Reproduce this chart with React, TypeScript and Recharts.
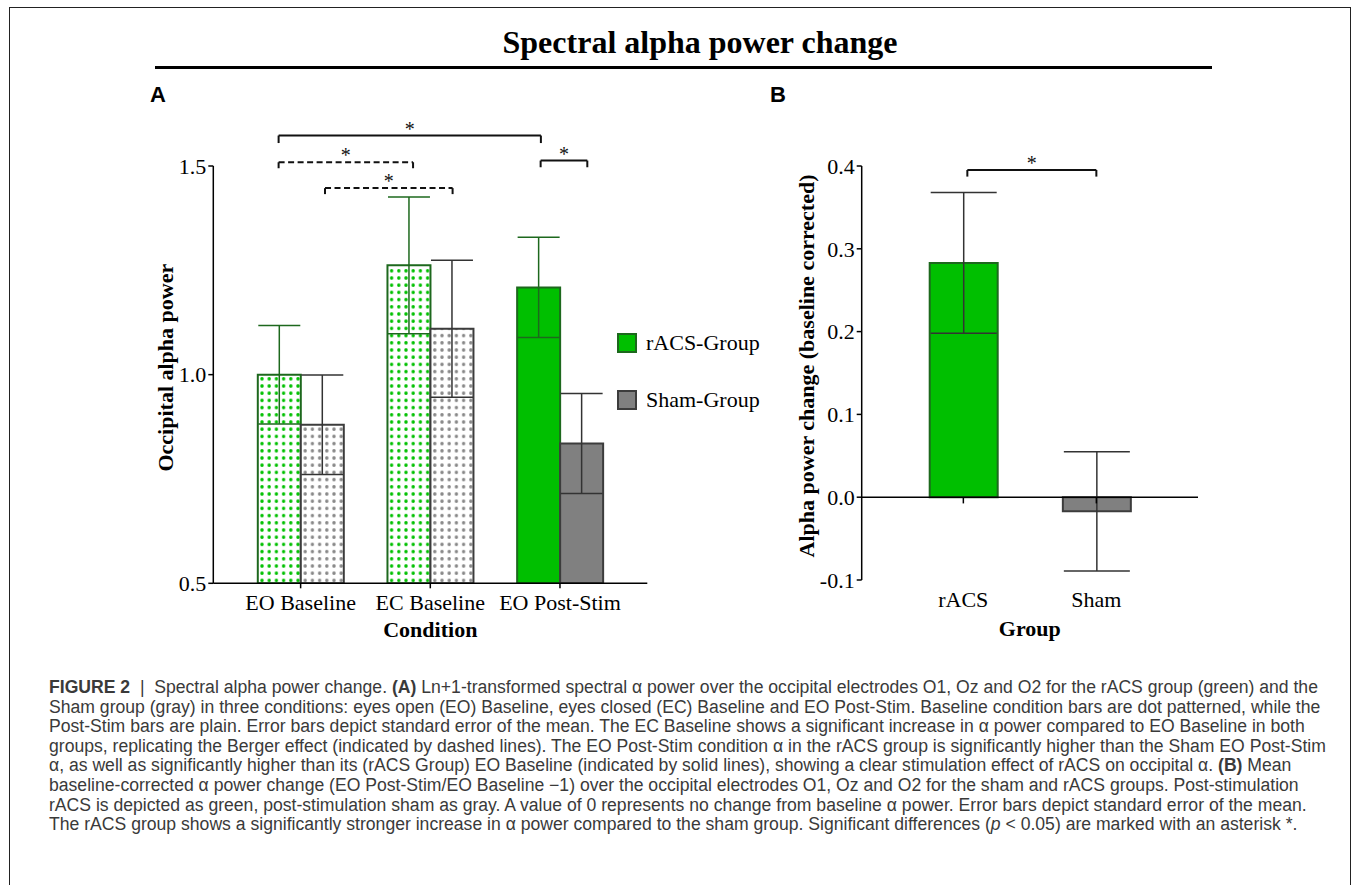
import React from 'react';
import { BarChart, Bar, XAxis, YAxis, ErrorBar, Cell, ReferenceLine, Legend } from 'recharts';

// Panel A: occipital alpha power per condition
const conditions = ['EO Baseline', 'EC Baseline', 'EO Post-Stim'];
const racsPower = [1.0, 1.262, 1.209];
const racsSem = [0.118, 0.164, 0.12];
const shamPower = [0.88, 1.11, 0.835];
const shamSem = [0.119, 0.164, 0.12];
const dotted = [true, true, false];
const powerTicks = [0.5, 1.0, 1.5];
const legendOrder = ['rACS-Group', 'Sham-Group'];

// Panel B: baseline corrected change
const groups = ['rACS', 'Sham'];
const powerChange = [0.283, -0.017];
const changeSem = [0.085, 0.072];
const changeTicks = [-0.1, 0, 0.1, 0.2, 0.3, 0.4];

// significance brackets, x in condition units (0 = centre of the first condition)
const bracketsA = [
  { from: -0.17, to: 1.853, y: 1.573, drop: 0.018, dashed: false },
  { from: -0.17, to: 0.867, y: 1.509, drop: 0.016, dashed: true },
  { from: 0.188, to: 1.172, y: 1.447, drop: 0.016, dashed: true },
  { from: 1.851, to: 2.211, y: 1.513, drop: 0.016, dashed: false },
];
const bracketsB = [{ from: 0.03, to: 1.0, y: 0.3952, drop: 0.008, dashed: false }];

const SERIF = '"Liberation Serif", "Times New Roman", serif';
const SANS = '"Liberation Sans", Arial, sans-serif';
const GREEN = '#00bf00';
const GREEN_EDGE = '#1d681d';
const GRAY = '#808080';
const GRAY_EDGE = '#3c3c3c';

const edgeOf: Record<string, string> = { 'rACS-Group': GREEN_EDGE, 'Sham-Group': GRAY_EDGE };

const dataA = conditions.map((c, i) => ({
  condition: c,
  racs: racsPower[i],
  racsErr: racsSem[i],
  sham: shamPower[i],
  shamErr: shamSem[i],
}));

const dataB = groups.map((g, i) => ({ group: g, change: powerChange[i], err: changeSem[i] }));

const tickStyle = { fontFamily: SERIF, fontSize: 22, fill: '#000' };

function bracketLines(b: any, key: string, axisId: string) {
  const common = {
    xAxisId: axisId,
    ifOverflow: 'visible' as const,
    stroke: '#111',
    strokeWidth: 2,
    strokeDasharray: b.dashed ? '6 3.5' : undefined,
  };
  return [
    <ReferenceLine
      key={key + 'h'}
      {...common}
      segment={[{ x: b.from, y: b.y }, { x: b.to, y: b.y }]}
      label={{ value: '*', position: 'top', offset: 0, fill: '#111', fontSize: 20, fontFamily: SERIF }}
    />,
    <ReferenceLine key={key + 'l'} {...common} segment={[{ x: b.from, y: b.y }, { x: b.from, y: b.y - b.drop }]} />,
    <ReferenceLine key={key + 'r'} {...common} segment={[{ x: b.to, y: b.y }, { x: b.to, y: b.y - b.drop }]} />,
  ];
}

function SideLabel(props: any) {
  const { viewBox, text, dx, lift } = props;
  const cx = viewBox.x + dx;
  const cy = viewBox.y + viewBox.height / 2 - lift;
  return (
    <text
      x={cx}
      y={cy}
      transform={`rotate(-90, ${cx}, ${cy})`}
      textAnchor="middle"
      dominantBaseline="central"
      fontFamily={SERIF}
      fontWeight="bold"
      fontSize={22}
      fill="#000"
    >
      {text}
    </text>
  );
}

function GroupLegend(props: any) {
  const items = [...(props.payload || [])].sort(
    (a: any, b: any) => legendOrder.indexOf(a.value) - legendOrder.indexOf(b.value)
  );
  return (
    <div>
      {items.map((entry: any) => (
        <div key={entry.value} style={{ display: 'flex', alignItems: 'center', height: 57 }}>
          <span
            style={{
              display: 'inline-block',
              width: 16,
              height: 16,
              background: entry.color,
              border: `2px solid ${edgeOf[entry.value]}`,
            }}
          />
          <span style={{ marginLeft: 9, fontFamily: SERIF, fontSize: 22, color: '#000' }}>{entry.value}</span>
        </div>
      ))}
    </div>
  );
}

function PanelA() {
  return (
    <BarChart
      width={680}
      height={580}
      data={dataA}
      barGap={0}
      margin={{ top: 86, right: 132.7, bottom: 21.7, left: 43.3 }}
    >
      <defs>
        <pattern id="dotsGreen" width={7.2} height={7.2} patternUnits="userSpaceOnUse">
          <rect width={7.2} height={7.2} fill="#fff" />
          <circle cx={3.6} cy={3.6} r={1.7} fill="#00c000" />
        </pattern>
        <pattern id="dotsGray" width={7.2} height={7.2} patternUnits="userSpaceOnUse">
          <rect width={7.2} height={7.2} fill="#fff" />
          <circle cx={3.6} cy={3.6} r={1.7} fill="#888" />
        </pattern>
      </defs>
      <XAxis
        dataKey="condition"
        height={55}
        padding={{ left: 22.5, right: 22.5 }}
        tick={tickStyle}
        tickSize={5}
        tickMargin={6}
        axisLine={{ stroke: '#000', strokeWidth: 1.5 }}
        tickLine={{ stroke: '#000', strokeWidth: 1.5 }}
        interval={0}
        label={{ value: 'Condition', position: 'insideBottom', offset: 1, fontFamily: SERIF, fontWeight: 'bold', fontSize: 22, fill: '#000' }}
      />
      {/* hidden helper axis: 0..2 sit on the condition centres */}
      <XAxis xAxisId="ann" type="number" domain={[0, 2]} allowDataOverflow hide padding={{ left: 87.35, right: 87.35 }} />
      <YAxis
        width={70}
        domain={[0.5, 1.5]}
        ticks={powerTicks}
        allowDataOverflow
        tickFormatter={(v: number) => v.toFixed(1)}
        tick={tickStyle}
        tickSize={5}
        tickMargin={2}
        axisLine={{ stroke: '#000', strokeWidth: 1.5 }}
        tickLine={{ stroke: '#000', strokeWidth: 1.5 }}
        label={<SideLabel text="Occipital alpha power" dx={22.7} lift={7} />}
      />
      <Legend
        layout="vertical"
        align="center"
        verticalAlign="middle"
        wrapperStyle={{ left: 517, top: 234 }}
        content={<GroupLegend />}
      />
      <Bar dataKey="racs" name="rACS-Group" fill={GREEN} stroke={GREEN_EDGE} strokeWidth={2} barSize={43} isAnimationActive={false}>
        {dataA.map((d, i) => (
          <Cell key={d.condition} fill={dotted[i] ? 'url(#dotsGreen)' : GREEN} />
        ))}
        <ErrorBar dataKey="racsErr" width={21} stroke={GREEN_EDGE} strokeWidth={1.5} isAnimationActive={false} />
      </Bar>
      <Bar dataKey="sham" name="Sham-Group" fill={GRAY} stroke={GRAY_EDGE} strokeWidth={2} barSize={43} isAnimationActive={false}>
        {dataA.map((d, i) => (
          <Cell key={d.condition} fill={dotted[i] ? 'url(#dotsGray)' : GRAY} />
        ))}
        <ErrorBar dataKey="shamErr" width={21} stroke="#333" strokeWidth={1.5} isAnimationActive={false} />
      </Bar>
      {bracketsA.flatMap((b, i) => bracketLines(b, 'a' + i, 'ann'))}
    </BarChart>
  );
}

function PanelB() {
  return (
    <BarChart width={480} height={580} data={dataB} margin={{ top: 86, right: 42, bottom: 22, left: 31.7 }}>
      <XAxis
        dataKey="group"
        height={58}
        padding={{ left: 35, right: 35 }}
        tick={tickStyle}
        tickSize={6}
        tickMargin={5}
        axisLine={false}
        tickLine={false}
        interval={0}
        label={{ value: 'Group', position: 'insideBottom', offset: 2, fontFamily: SERIF, fontWeight: 'bold', fontSize: 22, fill: '#000' }}
      />
      {/* hidden helper axis: 0 and 1 sit on the group centres */}
      <XAxis xAxisId="ann" type="number" domain={[0, 1]} allowDataOverflow hide padding={{ left: 101.65, right: 101.65 }} />
      <YAxis
        width={70}
        domain={[-0.1, 0.4]}
        ticks={changeTicks}
        allowDataOverflow
        tickFormatter={(v: number) => v.toFixed(1)}
        tick={tickStyle}
        tickSize={5}
        tickMargin={2}
        axisLine={{ stroke: '#000', strokeWidth: 1.5 }}
        tickLine={{ stroke: '#000', strokeWidth: 1.5 }}
        label={<SideLabel text="Alpha power change (baseline corrected)" dx={14.3} lift={7} />}
      />
      <Bar dataKey="change" barSize={68} strokeWidth={2} isAnimationActive={false}>
        {dataB.map((d, i) => (
          <Cell key={d.group} fill={i === 0 ? GREEN : GRAY} stroke={i === 0 ? GREEN_EDGE : GRAY_EDGE} />
        ))}
        <ErrorBar dataKey="err" width={33} stroke="#333" strokeWidth={1.5} isAnimationActive={false} />
      </Bar>
      <ReferenceLine y={0} stroke="#000" strokeWidth={1.5} />
      {groups.map((g, i) => (
        <ReferenceLine
          key={g}
          xAxisId="ann"
          ifOverflow="visible"
          stroke="#000"
          strokeWidth={1.5}
          segment={[{ x: i, y: 0 }, { x: i, y: -0.0075 }]}
        />
      ))}
      {bracketsB.flatMap((b, i) => bracketLines(b, 'b' + i, 'ann'))}
    </BarChart>
  );
}

const captionLines: React.ReactNode[] = [
  <>
    <b>FIGURE 2</b>&nbsp; | &nbsp;Spectral alpha power change. <b>(A)</b> Ln+1-transformed spectral α power over the occipital electrodes O1, Oz and O2 for the rACS group (green) and the
  </>,
  <>Sham group (gray) in three conditions: eyes open (EO) Baseline, eyes closed (EC) Baseline and EO Post-Stim. Baseline condition bars are dot patterned, while the</>,
  <>Post-Stim bars are plain. Error bars depict standard error of the mean. The EC Baseline shows a significant increase in α power compared to EO Baseline in both</>,
  <>groups, replicating the Berger effect (indicated by dashed lines). The EO Post-Stim condition α in the rACS group is significantly higher than the Sham EO Post-Stim</>,
  <>
    α, as well as significantly higher than its (rACS Group) EO Baseline (indicated by solid lines), showing a clear stimulation effect of rACS on occipital α. <b>(B)</b> Mean
  </>,
  <>baseline-corrected α power change (EO Post-Stim/EO Baseline −1) over the occipital electrodes O1, Oz and O2 for the sham and rACS groups. Post-stimulation</>,
  <>rACS is depicted as green, post-stimulation sham as gray. A value of 0 represents no change from baseline α power. Error bars depict standard error of the mean.</>,
  <>
    The rACS group shows a significantly stronger increase in α power compared to the sham group. Significant differences (<i>p</i> &lt; 0.05) are marked with an asterisk *.
  </>,
];

export default function App() {
  return (
    <div style={{ position: 'absolute', left: 0, top: 0, width: 1355, height: 885, background: '#fff', overflow: 'hidden' }}>
      <div style={{ position: 'absolute', left: 9, top: 7, width: 1340, height: 920, border: '1.5px solid #222' }} />
      <div
        style={{
          position: 'absolute',
          left: 0,
          top: 22,
          width: 1400,
          lineHeight: '40px',
          textAlign: 'center',
          fontFamily: SERIF,
          fontWeight: 'bold',
          fontSize: 32,
          color: '#000',
        }}
      >
        Spectral alpha power change
      </div>
      <div style={{ position: 'absolute', left: 155, top: 66, width: 1057, height: 3, background: '#000' }} />
      <div style={{ position: 'absolute', left: 150, top: 84, fontFamily: SANS, fontWeight: 'bold', fontSize: 22, lineHeight: '22px' }}>A</div>
      <div style={{ position: 'absolute', left: 770, top: 84, fontFamily: SANS, fontWeight: 'bold', fontSize: 22, lineHeight: '22px' }}>B</div>
      <div style={{ position: 'absolute', left: 100, top: 80 }}>
        <PanelA />
      </div>
      <div style={{ position: 'absolute', left: 760, top: 80 }}>
        <PanelB />
      </div>
      <div style={{ position: 'absolute', left: 49, top: 678, fontFamily: SANS, fontSize: 17.6, lineHeight: '19.6px', color: '#3a3a3a' }}>
        {captionLines.map((line, i) => (
          <div key={i} style={{ whiteSpace: 'nowrap' }}>
            {line}
          </div>
        ))}
      </div>
    </div>
  );
}
